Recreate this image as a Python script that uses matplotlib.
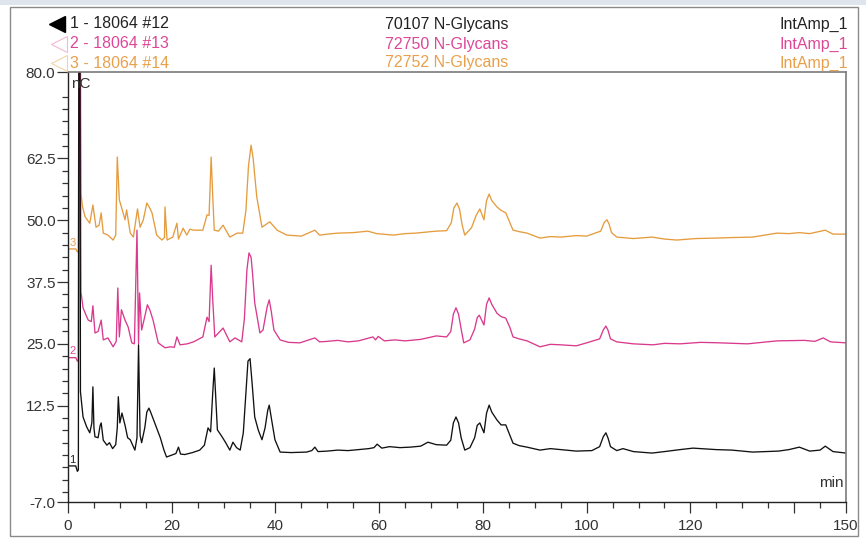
import matplotlib
matplotlib.use("Agg")
import matplotlib.pyplot as plt
from matplotlib.lines import Line2D
from matplotlib.patches import Rectangle

plt.rcParams['font.family'] = ['Liberation Sans', 'DejaVu Sans']

# ---- data: (retention time [min], signal [nC]) ----
trace1_points = [
    (0, 0.3), (1.5, 0.3), (1.8, -0.8), (2.0, -0.5), (2.1, 95), (2.3, 95), (2.4, 15.3), (2.9, 10.2), (3.6, 8.2),
    (4.2, 7.0), (4.6, 9), (4.8, 16.3), (5.0, 8), (5.2, 6.2), (5.8, 6.0), (6.2, 8.5), (6.4, 9.0), (6.8, 5.5),
    (7.5, 4.5), (8.0, 5.0), (8.6, 3.8), (9.2, 4.6), (9.5, 8), (9.7, 14.3), (10.0, 9.0), (10.4, 11.0), (11.0, 8.5),
    (11.5, 6.0), (12.0, 5.6), (12.6, 4.2), (12.9, 3.5), (13.3, 6), (13.6, 24.8), (13.9, 6.5), (14.2, 5.0),
    (14.8, 8.0), (15.2, 11.2), (15.6, 12.0), (16.0, 11.0), (16.5, 9.6), (17.0, 8.2), (17.8, 6.0), (18.5, 3.5),
    (19.0, 2.1), (20.0, 2.5), (20.8, 2.8), (21.3, 4.1), (21.7, 2.7), (22.5, 2.6), (24, 3.0), (25.4, 3.5),
    (26.3, 4.5), (27.0, 8.0), (27.5, 7.2), (27.9, 15), (28.2, 20.1), (28.5, 14), (28.8, 7.6), (29.7, 6.2),
    (30.4, 5.0), (31.2, 3.5), (31.8, 5.1), (32.5, 4.0), (33.2, 3.5), (33.8, 7), (34.3, 15), (34.7, 21.5),
    (35.1, 22), (35.5, 17), (36.0, 10.2), (36.7, 7.5), (37.4, 5.6), (38.0, 8), (38.5, 11.5), (38.8, 12.6),
    (39.2, 10), (39.9, 5.6), (40.9, 3.1), (43, 3.0), (46, 3.1), (47.0, 3.4), (47.6, 4.1), (48.2, 3.2), (50, 3.3),
    (52, 3.5), (54, 3.4), (56, 3.6), (58, 3.8), (59, 4.0), (59.6, 4.7), (60.5, 3.9), (62, 4.2), (64, 4.0),
    (66, 4.1), (68, 4.3), (69.4, 5.1), (71, 4.6), (73, 4.5), (73.8, 5.5), (74.3, 9.0), (74.8, 10.2), (75.3, 9.0),
    (75.8, 6), (76.5, 3.5), (77.5, 4.0), (78.4, 6), (78.9, 8.5), (79.4, 9.0), (80.2, 7.0), (80.7, 11),
    (81.2, 12.6), (81.7, 11.2), (82.7, 9.6), (83.5, 8.6), (84.4, 8.6), (85.2, 6.5), (85.8, 4.9), (87, 4.4),
    (88.5, 4.1), (91, 3.5), (93, 3.8), (95, 3.6), (98, 3.3), (101, 3.4), (102.5, 4.2), (103.2, 6.2), (103.7, 7.0),
    (104.1, 6.0), (104.6, 4.2), (105.8, 3.4), (107, 3.8), (109, 3.2), (112.6, 2.9), (115, 3.2), (118, 3.6),
    (120.5, 3.9), (125, 3.6), (128, 3.5), (132, 3.1), (137, 3.3), (139, 3.6), (141, 4.1), (143, 3.3), (145, 3.5),
    (146, 4.3), (147.5, 3.2), (150, 2.9)]

trace2_points = [
    (0, 22.2), (1.5, 22.2), (1.8, 21.5), (2.0, 21.8), (2.1, 95), (2.3, 95), (2.5, 35.5), (2.9, 32.3), (3.4, 31.0),
    (3.9, 29.8), (4.5, 29.5), (4.8, 32.7), (5.2, 27.2), (5.8, 27.5), (6.4, 29.8), (6.8, 25.8), (7.7, 26.2),
    (8.7, 24.4), (9.3, 25.5), (9.6, 36.3), (9.9, 26.4), (10.3, 31.9), (11.0, 29.8), (11.6, 28.4), (12.3, 25.2),
    (12.8, 25.0), (13.3, 48.0), (13.6, 25.0), (13.8, 35.3), (14.2, 27.8), (14.8, 30.5), (15.3, 32.9), (15.8, 31.8),
    (16.4, 29.8), (17.4, 25.2), (18.7, 24.2), (19.7, 24.4), (20.5, 24.3), (21.0, 26.4), (21.6, 24.8), (23, 25.0),
    (24.2, 25.4), (26.0, 26.4), (26.8, 30.4), (27.2, 29.5), (27.6, 40.9), (27.9, 34), (28.3, 26.4), (29.9, 28.2),
    (31.2, 25.4), (32.2, 26.2), (33.5, 25.4), (34.0, 30), (34.5, 40), (34.9, 43.4), (35.3, 42.5), (35.6, 39),
    (36.0, 33.3), (37.0, 27.2), (37.6, 27.8), (38.4, 32.5), (38.8, 33.9), (39.2, 31.5), (39.7, 27.8), (40.9, 25.8),
    (42.5, 25.3), (44.7, 25.2), (47.6, 26.2), (48.5, 25.4), (50, 25.5), (52, 25.7), (54, 25.4), (56, 25.6),
    (58.8, 26.4), (59.3, 25.8), (59.8, 26.5), (61, 25.6), (63, 25.8), (65, 25.6), (68, 25.9), (71, 26.6),
    (73, 26.4), (73.8, 27.5), (74.3, 31), (74.8, 32.3), (75.3, 31), (75.8, 28), (76.3, 25.2), (77.5, 25.8),
    (78.4, 28.0), (78.9, 30.3), (79.3, 30.8), (80.2, 28.8), (80.7, 33), (81.2, 34.3), (81.7, 33.0), (82.7, 31.2),
    (83.5, 30.5), (84.4, 30.2), (85.2, 28.3), (85.8, 26.4), (87, 26.0), (88.5, 25.6), (91, 24.4), (93, 24.9),
    (95, 24.8), (98, 24.6), (100, 25.2), (102.5, 26), (103.2, 27.8), (103.7, 28.6), (104.1, 27.8), (104.6, 26),
    (105.8, 25.4), (109, 25.0), (112.8, 24.8), (115, 25.1), (118, 25.0), (122, 25.3), (125.7, 25.2), (131, 25.0),
    (136.7, 25.6), (142, 25.7), (144, 25.5), (145.6, 26.2), (147, 25.4), (150, 25.2)]

trace3_points = [
    (0, 44.2), (1.5, 44.2), (1.8, 43.6), (2.0, 43.8), (2.1, 95), (2.4, 95), (2.5, 55.5), (2.8, 52.7), (3.3, 50.7),
    (4.2, 49.4), (4.8, 53.1), (5.4, 48.6), (6.0, 49), (6.4, 51.5), (6.8, 47.4), (7.7, 47.0), (8.7, 46.0),
    (9.2, 47), (9.5, 62.8), (9.9, 54.1), (10.3, 52.7), (11.0, 50.1), (11.3, 52.1), (12.0, 47.4), (12.6, 46.6),
    (13.4, 52.3), (13.9, 48.6), (14.5, 50), (15.2, 53.5), (15.7, 52.6), (16.2, 51.5), (17.1, 47.0), (18.1, 46.0),
    (18.6, 46.5), (18.7, 52.7), (19.1, 46.0), (20.2, 46.6), (21.0, 49.4), (21.3, 46.2), (22.2, 48.4), (22.9, 47.0),
    (23.5, 48.2), (24.2, 48.0), (26.0, 48.0), (26.8, 51.1), (27.2, 51), (27.6, 62.8), (27.9, 55), (28.2, 48.0),
    (29.0, 47.8), (29.9, 49.0), (31.2, 46.6), (32.6, 47.4), (33.7, 47.4), (34.3, 52), (34.8, 61), (35.3, 65.2),
    (35.7, 62.5), (36.1, 58), (36.4, 54.7), (37.4, 48.6), (38.9, 49.7), (40.3, 48.0), (42.2, 47.0), (45, 46.8),
    (47.6, 48.0), (48.5, 47.0), (50, 47.2), (52, 47.4), (55, 47.5), (57.8, 47.8), (59.5, 47.3), (62.7, 47.0),
    (65, 47.3), (67, 47.4), (71, 47.8), (73, 47.9), (73.9, 49.5), (74.4, 52.5), (75.0, 53.5), (75.5, 52.2),
    (76.0, 49), (76.5, 47.0), (77.8, 48.5), (78.7, 51), (79.4, 52.3), (80.2, 50.1), (80.7, 54), (81.2, 55.3),
    (81.7, 54), (82.7, 52.7), (83.5, 52), (84.4, 51.5), (85.2, 49.5), (85.8, 48.0), (87, 47.7), (88.5, 47.4),
    (91, 46.4), (93, 46.7), (95, 46.6), (98, 46.9), (100, 46.8), (102.7, 47.8), (103.4, 49.6), (103.9, 50.1),
    (104.3, 49.3), (104.8, 47.5), (105.8, 46.6), (109, 46.3), (112.6, 46.6), (115, 46.2), (117.4, 46.0),
    (121, 46.3), (125, 46.4), (128, 46.5), (132, 46.6), (136.7, 47.4), (139, 47.3), (141, 47.5), (143, 47.3),
    (146, 48.0), (147.5, 47.2), (150, 47.2)]

trace_ids = ["1", "2", "3"]
sample_names = ["1 - 18064 #12", "2 - 18064 #13", "3 - 18064 #14"]
program_names = ["70107 N-Glycans", "72750 N-Glycans", "72752 N-Glycans"]
channel_names = ["IntAmp_1", "IntAmp_1", "IntAmp_1"]
start_levels = [1.5, 23.5, 45.5]

y_major = [80.0, 62.5, 50.0, 37.5, 25.0, 12.5, -7.0]
y_major_labels = ["80.0", "62.5", "50.0", "37.5", "25.0", "12.5", "-7.0"]
x_major = [0, 20, 40, 60, 80, 100, 120, 140, 150]
x_major_labels = ["0", "20", "40", "60", "80", "100", "120", "", "150"]

colors = ["#111111", "#d93a8e", "#e59c3e"]
text_colors = ["#222222", "#dc4897", "#e8a04c"]

# ---- figure ----
W, H = 866, 539
fig = plt.figure(figsize=(W / 100, H / 100), dpi=100)
fig.patch.set_facecolor("white")

fig.add_artist(Rectangle((0, 1 - 5 / H), 1, 5 / H, transform=fig.transFigure,
                         facecolor="#dfe5ec", edgecolor="none"))
fig.add_artist(Rectangle((10 / W, 1 - 536 / H), 848 / W, 529 / H, transform=fig.transFigure,
                         facecolor="none", edgecolor="#8a8a8a", lw=1.0))

x0, x1 = 68 / W, 846 / W
y0, y1 = 1 - 502 / H, 1 - 72 / H
ax = fig.add_axes([x0, y0, x1 - x0, y1 - y0])

traces = [trace1_points, trace2_points, trace3_points]
for pts, c in reversed(list(zip(traces, colors))):
    tt = [p[0] for p in pts]
    vv = [p[1] for p in pts]
    ax.plot(tt, vv, color=c, lw=0.95, solid_joinstyle="round")

ax.set_xlim(0, 150)
ax.set_ylim(-7, 80)

ax.set_yticks(y_major)
ax.set_yticklabels(y_major_labels)
ax.set_yticks([-5 + 2.5 * i for i in range(33)], minor=True)
ax.set_xticks(x_major)
ax.set_xticklabels(x_major_labels)
ax.set_xticks([5 * i for i in range(31)], minor=True)

ax.tick_params(axis="both", which="major", direction="out", length=8, width=0.9,
               color="#333333", labelsize=11, labelcolor="#333333")
ax.tick_params(axis="both", which="minor", direction="out", length=4, width=0.9, color="#333333")
ax.tick_params(axis="y", which="major", pad=1)
ax.tick_params(axis="x", which="major", pad=4)

for s in ["left", "bottom"]:
    ax.spines[s].set_color("#222222")
    ax.spines[s].set_linewidth(1.0)
for s in ["top", "right"]:
    ax.spines[s].set_color("#7a7a7a")
    ax.spines[s].set_linewidth(1.2)

ax.text(0.6, 79, "nC", fontsize=11, color="#333333", va="top", ha="left")
ax.text(149.5, -4.5, "min", fontsize=11, color="#333333", va="bottom", ha="right")

for tid, lvl, c in zip(trace_ids, start_levels, text_colors):
    ax.text(0.3, lvl, tid, fontsize=8, color=c, va="center", ha="left")

# ---- header ----
rows_y = [1 - 24 / H, 1 - 44 / H, 1 - 63 / H]
for i in range(3):
    fig.text(70 / W, rows_y[i], sample_names[i], fontsize=11.5, color=text_colors[i], va="center", ha="left")
    fig.text(385 / W, rows_y[i], program_names[i], fontsize=11.5, color=text_colors[i], va="center", ha="left")
    fig.text(848 / W, rows_y[i], channel_names[i], fontsize=11.5, color=text_colors[i], va="center", ha="right")

fig.add_artist(Line2D([57 / W], [rows_y[0]], transform=fig.transFigure, marker="<", markersize=11,
                      color="#000000", markerfacecolor="#000000", linestyle="none"))
fig.add_artist(Line2D([59 / W], [rows_y[1]], transform=fig.transFigure, marker="<", markersize=11,
                      markeredgecolor="#f2b8d4", markerfacecolor="none", markeredgewidth=0.8, linestyle="none"))
fig.add_artist(Line2D([59 / W], [rows_y[2]], transform=fig.transFigure, marker="<", markersize=11,
                      markeredgecolor="#f3d2a8", markerfacecolor="none", markeredgewidth=0.8, linestyle="none"))

fig.savefig("out.png", dpi=100)
